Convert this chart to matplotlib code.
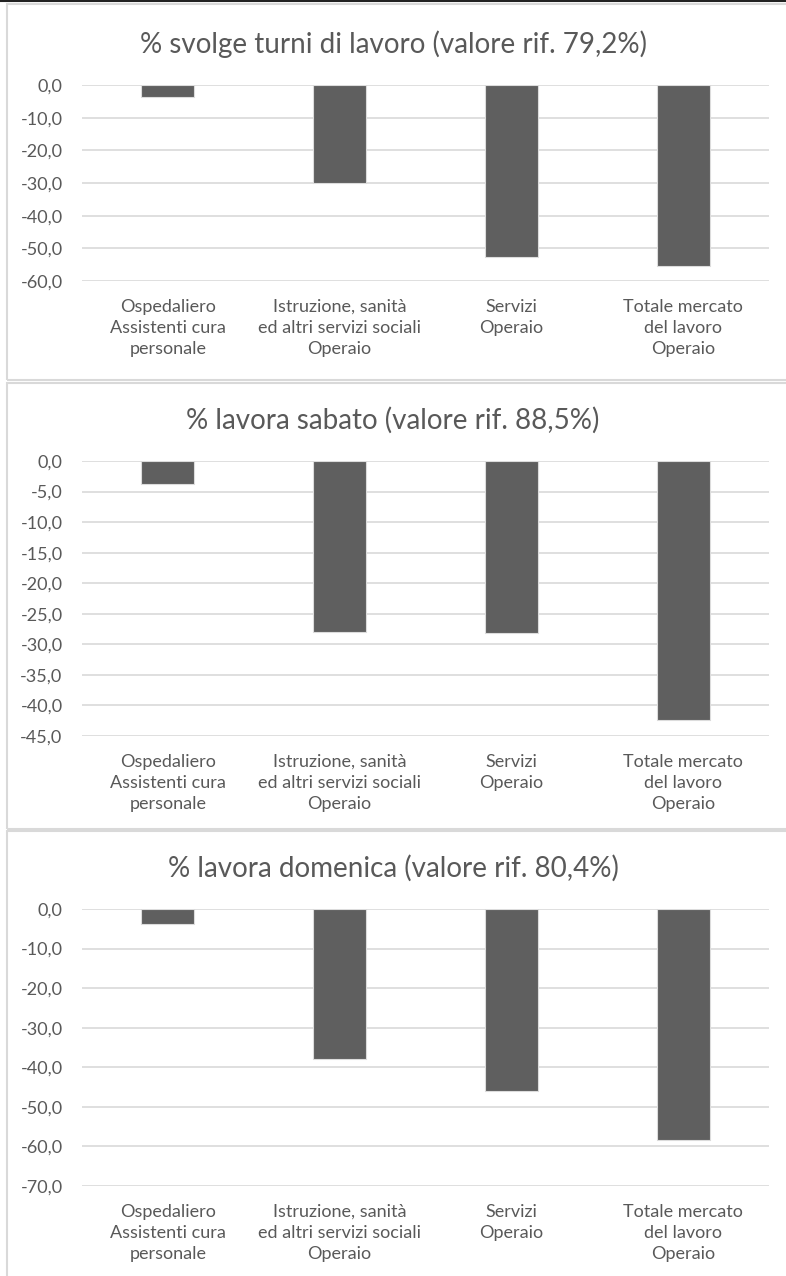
import matplotlib
matplotlib.use("Agg")
import matplotlib.pyplot as plt
from matplotlib.patches import Rectangle
from matplotlib.ticker import FuncFormatter

categorie = [
    "Ospedaliero\nAssistenti cura\npersonale",
    "Istruzione, sanità\ned altri servizi sociali\nOperaio",
    "Servizi\nOperaio",
    "Totale mercato\ndel lavoro\nOperaio",
]

titoli = [
    "% svolge turni di lavoro (valore rif. 79,2%)",
    "% lavora sabato (valore rif. 88,5%)",
    "% lavora domenica (valore rif. 80,4%)",
]

turni = [-3.6, -30.1, -52.6, -55.4]
sabato = [-3.8, -28.0, -28.2, -42.4]
domenica = [-3.7, -37.8, -46.0, -58.4]

serie = [turni, sabato, domenica]
limiti = [(-60, 0, 10), (-45, 0, 5), (-70, 0, 10)]

W, H = 786, 1276
GRIGIO = "#595959"
LINEA = "#d9d9d9"
plt.rcParams["font.family"] = ["Lato", "DejaVu Sans"]

fig = plt.figure(figsize=(W / 100, H / 100), dpi=100)

# pixel layout: (box top, box bottom, axes top, axes bottom, title y)
pannelli = [
    (4, 380, 85, 281, 44),
    (383, 829, 461, 736, 420),
    (831, 1285, 909, 1186, 868),
]


def fmt(v, pos):
    return f"{v:.1f}".replace(".", ",")


for (btop, bbot, atop, abot, ty), vals, titolo, (ymin, ymax, step) in zip(pannelli, serie, titoli, limiti):
    # bordo del pannello
    fig.patches.append(Rectangle((7 / W, 1 - bbot / H), 790 / W, (bbot - btop) / H,
                                 transform=fig.transFigure, fill=False,
                                 edgecolor=LINEA, linewidth=1.5, zorder=0))
    fig.text(393 / W, 1 - ty / H, titolo, ha="center", va="center",
             fontsize=20, color=GRIGIO)

    ax = fig.add_axes([82 / W, 1 - abot / H, (769 - 82) / W, (abot - atop) / H])
    x = range(len(categorie))
    ax.bar(x, vals, width=0.31, color="#5f5f5f", edgecolor="#dcdcdc",
           linewidth=0.8, zorder=3)
    ax.set_xlim(-0.5, len(categorie) - 0.5)
    ax.set_ylim(ymin, ymax)
    ax.set_yticks([ymin + step * i for i in range(int((ymax - ymin) / step) + 1)])
    ax.yaxis.set_major_formatter(FuncFormatter(fmt))
    ax.grid(axis="y", color=LINEA, linewidth=1.2, zorder=0)
    ax.set_axisbelow(True)
    for s in ax.spines.values():
        s.set_visible(False)
    ax.tick_params(axis="both", length=0, colors=GRIGIO, labelsize=13)
    ax.tick_params(axis="y", pad=14)
    ax.tick_params(axis="x", pad=13)
    ax.set_xticks(list(x))
    ax.set_xticklabels(categorie, linespacing=1.4, va="top")

# linea scura in alto
fig.add_artist(plt.Line2D([0, 1], [1 - 1 / H, 1 - 1 / H], transform=fig.transFigure,
                          color="#222222", linewidth=1.5))

fig.savefig("out.png", dpi=100)
